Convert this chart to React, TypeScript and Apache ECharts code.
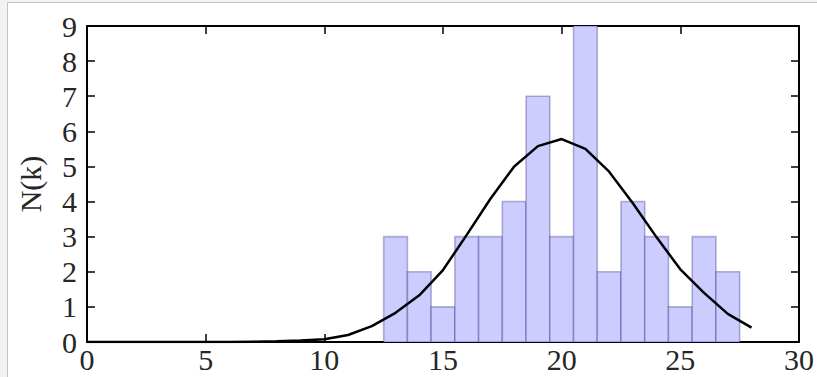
import React, { useEffect, useRef } from "react";
import * as echarts from "echarts";

// Histogram bins (bin centres, width 1) and counts
const binCenters = [13, 14, 15, 16, 17, 18, 19, 20, 21, 22, 23, 24, 25, 26, 27];
const binCounts = [3, 2, 1, 3, 3, 4, 7, 3, 9, 2, 4, 3, 1, 3, 2];

// Fitted curve
const curveK = [0, 1, 2, 3, 4, 5, 6, 7, 8, 9, 10, 11, 12, 13, 14, 15, 16, 17, 18, 19, 20, 21, 22, 23, 24, 25, 26, 27, 28];
const curveN = [0, 0, 0, 0, 0, 0, 0, 0.01, 0.02, 0.04, 0.08, 0.2, 0.45, 0.83, 1.33, 2.05, 3.05, 4.08, 5.0, 5.58, 5.78, 5.5, 4.85, 3.95, 2.98, 2.07, 1.4, 0.8, 0.41];

const xTicks = [0, 5, 10, 15, 20, 25, 30];
const yTicks = [0, 1, 2, 3, 4, 5, 6, 7, 8, 9];

const FONT = "Liberation Serif";

export default function App() {
  const ref = useRef<HTMLDivElement>(null);
  useEffect(() => {
    if (!ref.current) return;
    const chart = echarts.init(ref.current, undefined, { renderer: "svg" });
    const axisCommon = {
      axisLine: { show: true, onZero: false, lineStyle: { color: "#000", width: 2 } },
      axisTick: { show: true, inside: true, length: 8, lineStyle: { color: "#000", width: 1.5 } },
      splitLine: { show: false },
    };
    chart.setOption({
      animation: false,
      backgroundColor: "#ffffff",
      grid: { left: 87, right: 15, top: 26, bottom: 35 },
      xAxis: [
        {
          type: "value",
          min: xTicks[0],
          max: xTicks[xTicks.length - 1],
          interval: 5,
          position: "bottom",
          ...axisCommon,
          axisLabel: { color: "#262626", fontFamily: FONT, fontSize: 30, margin: 2 },
        },
        {
          type: "value",
          min: xTicks[0],
          max: xTicks[xTicks.length - 1],
          interval: 5,
          position: "top",
          ...axisCommon,
          axisLabel: { show: false },
        },
      ],
      yAxis: [
        {
          type: "value",
          min: yTicks[0],
          max: yTicks[yTicks.length - 1],
          interval: 1,
          position: "left",
          ...axisCommon,
          axisLabel: { color: "#262626", fontFamily: FONT, fontSize: 30, margin: 10 },
          name: "N(k)",
          nameLocation: "middle",
          nameGap: 42,
          nameTextStyle: { color: "#262626", fontFamily: FONT, fontSize: 30 },
        },
        {
          type: "value",
          min: yTicks[0],
          max: yTicks[yTicks.length - 1],
          interval: 1,
          position: "right",
          ...axisCommon,
          axisLabel: { show: false },
        },
      ],
      graphic: [
        { type: "rect", shape: { x: 0, y: 0, width: 7, height: 377 }, style: { fill: "#f2f2f2" }, silent: true },
        { type: "rect", shape: { x: 0, y: 0, width: 817, height: 2 }, style: { fill: "#f2f2f2" }, silent: true },
        { type: "line", shape: { x1: 7.5, y1: 2, x2: 7.5, y2: 377 }, style: { stroke: "#c4c4c4", lineWidth: 1 }, silent: true },
        { type: "line", shape: { x1: 7, y1: 2.5, x2: 817, y2: 2.5 }, style: { stroke: "#c4c4c4", lineWidth: 1 }, silent: true },
      ],
      series: [
        {
          type: "custom",
          xAxisIndex: 0,
          yAxisIndex: 0,
          data: binCenters.map((c, i) => [c, binCounts[i]]),
          renderItem: (params: any, api: any) => {
            const c = api.value(0);
            const v = api.value(1);
            const p0 = api.coord([c - 0.5, v]);
            const p1 = api.coord([c + 0.5, 0]);
            return {
              type: "rect",
              shape: { x: p0[0], y: p0[1], width: p1[0] - p0[0], height: p1[1] - p0[1] },
              style: { fill: "#ccccff", stroke: "rgba(20,20,110,0.3)", lineWidth: 1.6 },
            };
          },
          z: 1,
        },
        {
          type: "line",
          xAxisIndex: 0,
          yAxisIndex: 0,
          data: curveK.map((k, i) => [k, curveN[i]]),
          showSymbol: false,
          symbol: "none",
          lineStyle: { color: "#000", width: 2.5 },
          z: 3,
        },
      ],
    });
    return () => chart.dispose();
  }, []);
  return (
    <div
      ref={ref}
      style={{ position: "absolute", left: 0, top: 0, width: 817, height: 377 }}
    />
  );
}
